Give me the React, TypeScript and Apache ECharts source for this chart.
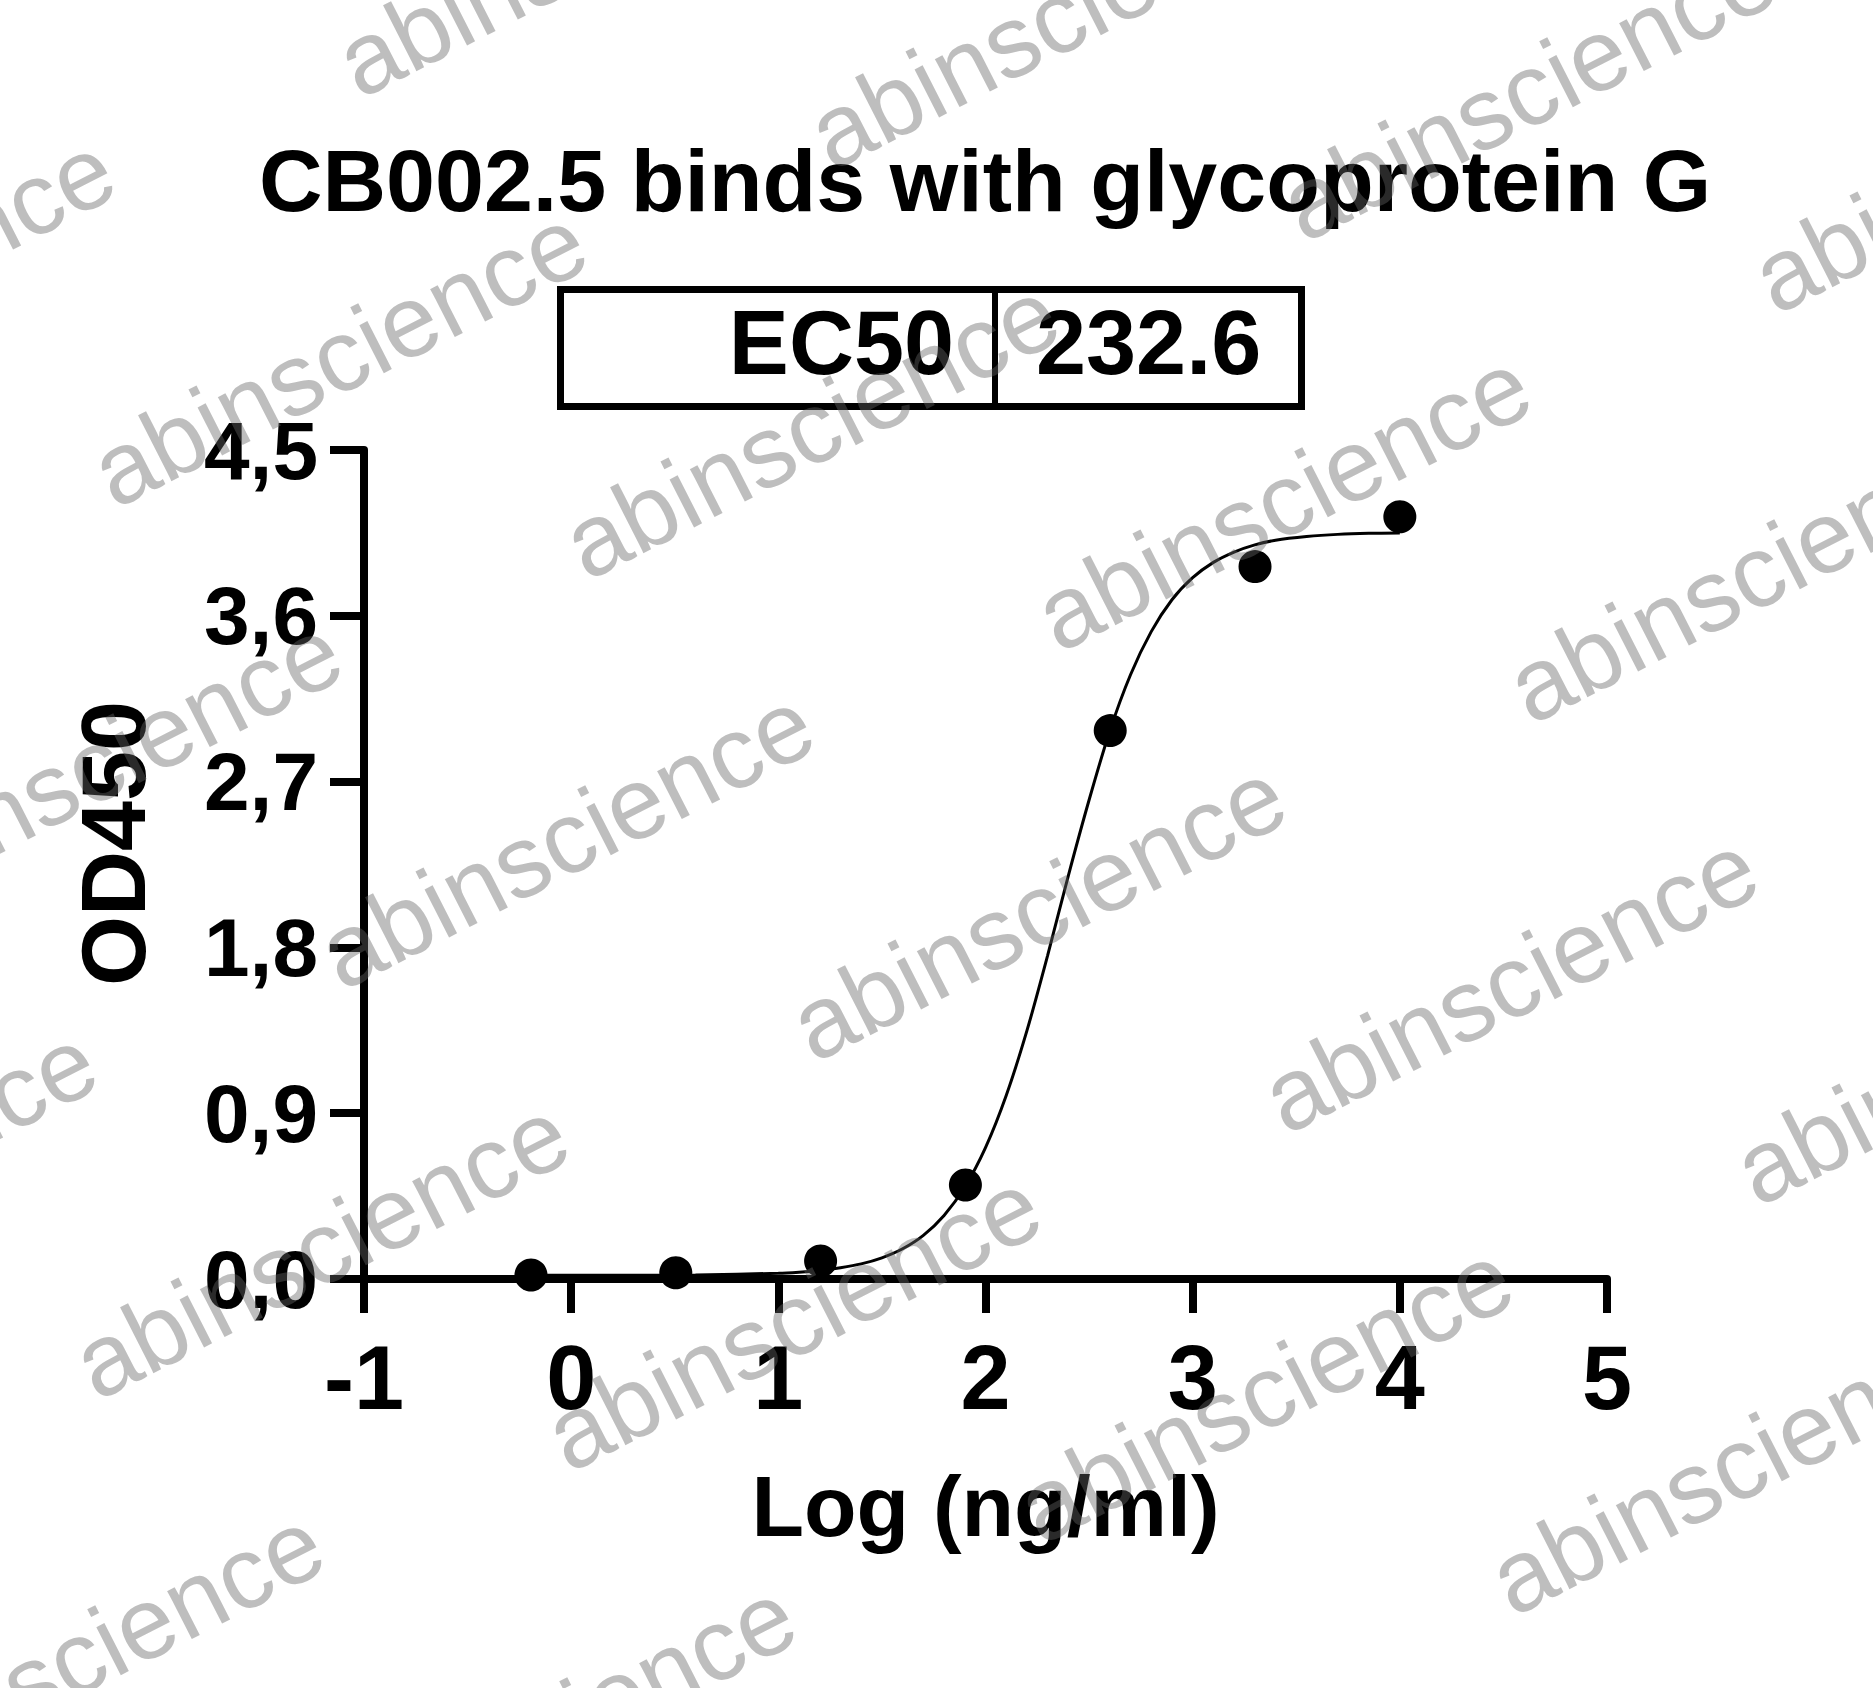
import React, { useEffect, useRef } from 'react';
import * as echarts from 'echarts';

const titleText = 'CB002.5 binds with glycoprotein G';
const xAxisTitle = 'Log (ng/ml)';
const yAxisTitle = 'OD450';
const ec50Label = 'EC50';
const ec50Value = '232.6';
const watermarkText = 'abinscience';

const xTickLabels = ['-1', '0', '1', '2', '3', '4', '5'];
const yTickLabels = ['0,0', '0,9', '1,8', '2,7', '3,6', '4,5'];

// measured points: log10 concentration (ng/ml) vs OD450
const logConc = [-0.194, 0.505, 1.204, 1.903, 2.602, 3.301, 4.0];
const od450 = [0.022, 0.034, 0.098, 0.51, 2.977, 3.867, 4.138];

// fitted curve
const curveLogConc = [
  -0.194, 0.2, 0.6, 1.0, 1.1, 1.2, 1.3, 1.4, 1.5, 1.6, 1.7, 1.8, 1.9, 2.0, 2.1, 2.2,
  2.3, 2.4, 2.5, 2.6, 2.7, 2.8, 2.9, 3.0, 3.1, 3.2, 3.3, 3.4, 3.55, 3.7, 3.85, 4.0,
];
const curveOd = [
  0.02, 0.02, 0.022, 0.031, 0.037, 0.046, 0.061, 0.082, 0.115, 0.164, 0.237, 0.345,
  0.499, 0.713, 0.996, 1.348, 1.757, 2.19, 2.6, 2.975, 3.28, 3.514, 3.687, 3.807,
  3.89, 3.946, 3.985, 4.01, 4.03, 4.042, 4.048, 4.05,
];

const FONT = '"Liberation Sans", Arial, Helvetica, sans-serif';

export default function App() {
  const ref = useRef<HTMLDivElement>(null);

  useEffect(() => {
    if (!ref.current) return;
    const chart = echarts.init(ref.current, undefined, { renderer: 'svg' });

    const theta = (27 * Math.PI) / 180;
    const watermarks: any[] = [];
    for (let j = -1; j <= 4; j++) {
      for (let i = -2; i <= 5; i++) {
        const x = 360 + i * 472 - j * 245;
        const y = 100 + i * 72 + j * 410;
        if (x + 520 < 0 || x > 1873 || y < 0 || y - 260 > 1688) continue;
        watermarks.push({
          type: 'text',
          x,
          y,
          rotation: theta,
          z: 100,
          silent: true,
          style: {
            text: watermarkText,
            x: 0,
            y: 16,
            fill: 'rgba(100,100,100,0.42)',
            fontSize: 102,
            fontFamily: FONT,
            fontWeight: 'normal',
            textAlign: 'left',
            textVerticalAlign: 'bottom',
          },
        });
      }
    }

    const option: any = {
      animation: false,
      backgroundColor: '#ffffff',
      title: {
        text: titleText,
        left: 985,
        top: 136,
        textAlign: 'center',
        padding: 0,
        textStyle: { fontSize: 88, fontWeight: 'bold', fontFamily: FONT, color: '#000' },
      },
      grid: { left: 364, right: 266, top: 450, bottom: 409, containLabel: false },
      xAxis: {
        type: 'value',
        min: -1,
        max: 5,
        interval: 1,
        name: xAxisTitle,
        nameLocation: 'middle',
        nameGap: 184,
        nameTextStyle: { fontSize: 86, fontWeight: 'bold', fontFamily: FONT, color: '#000' },
        axisLine: { show: true, onZero: false, lineStyle: { color: '#000', width: 8 } },
        axisTick: { show: true, length: 34, lineStyle: { color: '#000', width: 8 } },
        axisLabel: {
          margin: 54,
          fontSize: 90,
          fontWeight: 'bold',
          fontFamily: FONT,
          color: '#000',
          formatter: (v: number) => xTickLabels[Math.round(v) + 1],
        },
        splitLine: { show: false },
      },
      yAxis: {
        type: 'value',
        min: 0,
        max: 4.5,
        interval: 0.9,
        name: yAxisTitle,
        nameLocation: 'middle',
        nameGap: 205,
        nameTextStyle: {
          fontSize: 90,
          fontWeight: 'bold',
          fontFamily: FONT,
          color: '#000',
          padding: [0, 0, 0, 42],
        },
        axisLine: { show: true, onZero: false, lineStyle: { color: '#000', width: 8 } },
        axisTick: { show: true, length: 34, lineStyle: { color: '#000', width: 8 } },
        axisLabel: {
          margin: 46,
          fontSize: 82,
          fontWeight: 'bold',
          fontFamily: FONT,
          color: '#000',
          formatter: (v: number) => yTickLabels[Math.round(v / 0.9)],
        },
        splitLine: { show: false },
      },
      series: [
        {
          type: 'line',
          data: curveLogConc.map((x, k) => [x, curveOd[k]]),
          showSymbol: false,
          smooth: 0.3,
          lineStyle: { color: '#000', width: 3 },
          z: 3,
        },
        {
          type: 'scatter',
          data: logConc.map((x, k) => [x, od450[k]]),
          symbol: 'circle',
          symbolSize: 33,
          itemStyle: { color: '#000', opacity: 1 },
          z: 4,
        },
      ],
      graphic: [
        {
          type: 'rect',
          z: 50,
          shape: { x: 560.5, y: 289.5, width: 741, height: 117 },
          style: { fill: '#fff', stroke: '#000', lineWidth: 7 },
        },
        {
          type: 'line',
          z: 51,
          shape: { x1: 995, y1: 289.5, x2: 995, y2: 406.5 },
          style: { stroke: '#000', lineWidth: 6 },
        },
        {
          type: 'text',
          z: 52,
          x: 954,
          y: 343,
          style: {
            text: ec50Label,
            fill: '#000',
            fontSize: 90,
            fontWeight: 'bold',
            fontFamily: FONT,
            textAlign: 'right',
            textVerticalAlign: 'middle',
          },
        },
        {
          type: 'text',
          z: 52,
          x: 1036,
          y: 343,
          style: {
            text: ec50Value,
            fill: '#000',
            fontSize: 90,
            fontWeight: 'bold',
            fontFamily: FONT,
            textAlign: 'left',
            textVerticalAlign: 'middle',
          },
        },
        ...watermarks,
      ],
    };

    chart.setOption(option);
    return () => chart.dispose();
  }, []);

  return (
    <div
      ref={ref}
      style={{ position: 'absolute', left: 0, top: 0, width: 1873, height: 1688, background: '#fff' }}
    />
  );
}
